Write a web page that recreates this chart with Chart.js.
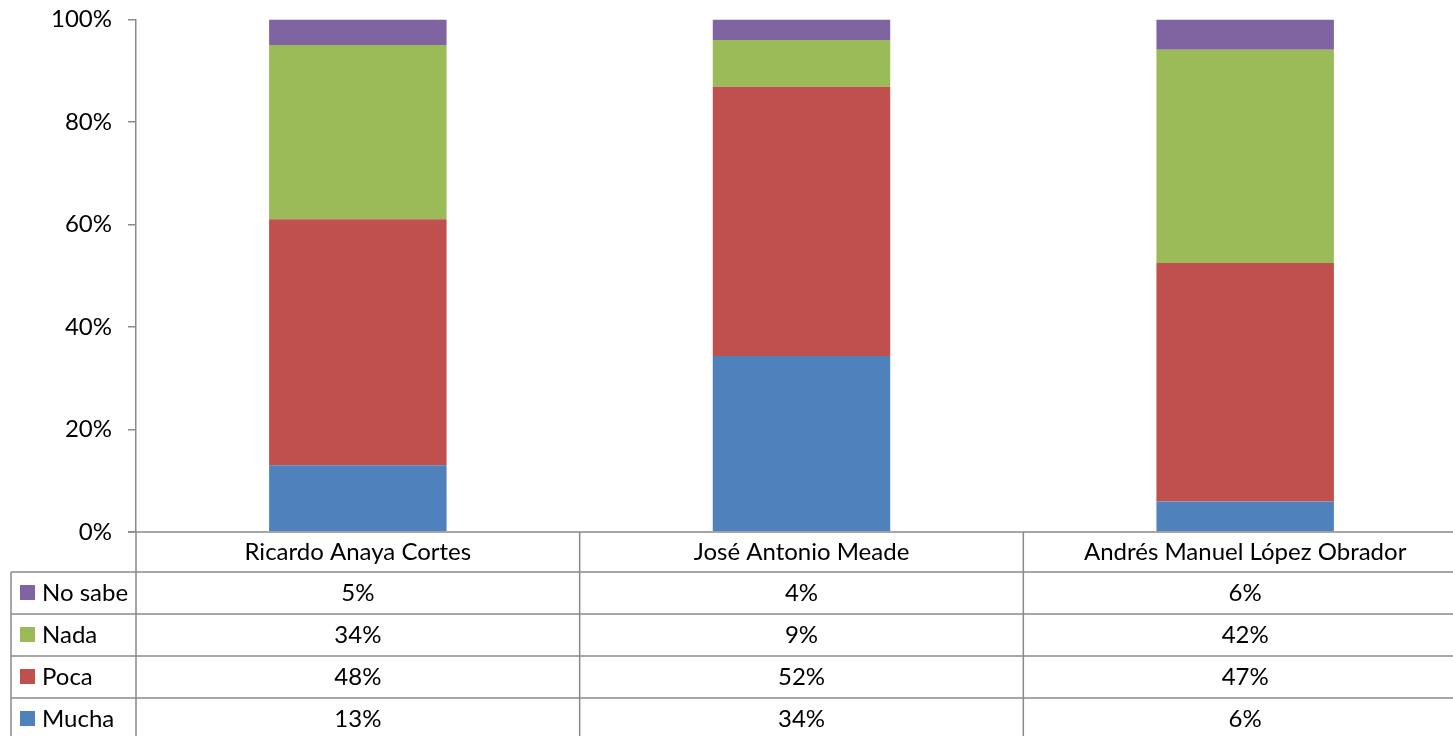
<!DOCTYPE html>
<html lang="es">
<head>
<meta charset="UTF-8">
<title>Confianza candidatos</title>
<script src="https://cdn.jsdelivr.net/npm/chart.js"></script>
<style>
  html, body { margin: 0; padding: 0; background: #fff; overflow: hidden; }
  .box { width: 1467px; height: 747px; margin-top: -11px; }
</style>
</head>
<body>
<div class="box"><canvas id="myChart"></canvas></div>
<script>
// datos
const candidatos = ['Ricardo Anaya Cortes', 'José Antonio Meade', 'Andrés Manuel López Obrador'];
const mucha  = [13, 34, 6];
const poca   = [48, 52, 47];
const nada   = [34, 9, 42];
const noSabe = [5, 4, 6];
const yTicks = [0, 20, 40, 60, 80, 100];

const series = [
  { label: 'Mucha',   values: mucha,  color: '#4F81BD' },
  { label: 'Poca',    values: poca,   color: '#C0504D' },
  { label: 'Nada',    values: nada,   color: '#9BBB59' },
  { label: 'No sabe', values: noSabe, color: '#8064A2' }
];

// 100% apilado
const totals = candidatos.map((c, i) => series.reduce((s, d) => s + d.values[i], 0));

const FONT = 'Lato, "Liberation Sans", sans-serif';
const LINE = '#8a8a8a';
const HEADER_H = 40, ROW_H = 42;

const tablePlugin = {
  id: 'dataTable',
  afterDraw(chart) {
    const ctx = chart.ctx;
    const xs = chart.scales.x;
    const area = chart.chartArea;
    const W = chart.width;
    const top = area.bottom;
    const rows = series.slice().reverse();
    const bottom = top + HEADER_H + ROW_H * rows.length;
    ctx.save();
    ctx.strokeStyle = LINE;
    ctx.lineWidth = 1.5;
    // lineas horizontales
    ctx.beginPath();
    ctx.moveTo(area.left - 8, top); ctx.lineTo(W, top);
    for (let r = 0; r <= rows.length; r++) {
      const y = top + HEADER_H + r * ROW_H;
      ctx.moveTo(11, y); ctx.lineTo(W, y);
    }
    // lineas verticales
    ctx.moveTo(11, top + HEADER_H); ctx.lineTo(11, bottom);
    ctx.moveTo(area.left, top); ctx.lineTo(area.left, bottom);
    const step = (area.right - area.left) / candidatos.length;
    for (let i = 1; i <= candidatos.length; i++) {
      const x = area.left + step * i;
      ctx.moveTo(x, top); ctx.lineTo(x, bottom);
    }
    ctx.stroke();

    ctx.fillStyle = '#000';
    ctx.font = '24px ' + FONT;
    ctx.textAlign = 'center';
    ctx.textBaseline = 'middle';
    candidatos.forEach((c, i) => {
      ctx.fillText(c, xs.getPixelForValue(i), top + HEADER_H / 2);
    });
    rows.forEach((s, r) => {
      const y = top + HEADER_H + r * ROW_H + ROW_H / 2;
      ctx.fillStyle = s.color;
      ctx.fillRect(20, y - 8, 15, 15);
      ctx.fillStyle = '#000';
      ctx.textAlign = 'left';
      ctx.fillText(s.label, 42, y);
      ctx.textAlign = 'center';
      s.values.forEach((v, i) => {
        ctx.fillText(v + '%', xs.getPixelForValue(i), y);
      });
    });
    ctx.restore();
  }
};

new Chart(document.getElementById('myChart'), {
  type: 'bar',
  data: {
    labels: candidatos,
    datasets: series.map(s => ({
      label: s.label,
      data: s.values.map((v, i) => v / totals[i] * 100),
      backgroundColor: s.color,
      borderWidth: 0,
      categoryPercentage: 1,
      barPercentage: 0.4
    }))
  },
  options: {
    responsive: true,
    maintainAspectRatio: false,
    animation: false,
    layout: { padding: { top: 0, bottom: 204, left: 0, right: 0 } },
    plugins: { legend: { display: false }, tooltip: { enabled: false } },
    scales: {
      x: { stacked: true, display: false, offset: true },
      y: {
        stacked: true,
        min: 0, max: 100,
        afterBuildTicks: s => { s.ticks = yTicks.map(v => ({ value: v })); },
        afterFit: s => { s.width = 136; },
        grid: { drawOnChartArea: false, tickLength: 8, color: LINE, lineWidth: 1.5 },
        border: { color: LINE, width: 1.5 },
        ticks: {
          padding: 16,
          color: '#000',
          font: { family: FONT, size: 24 },
          callback: v => v + '%'
        }
      }
    }
  },
  plugins: [tablePlugin]
});
</script>
</body>
</html>
